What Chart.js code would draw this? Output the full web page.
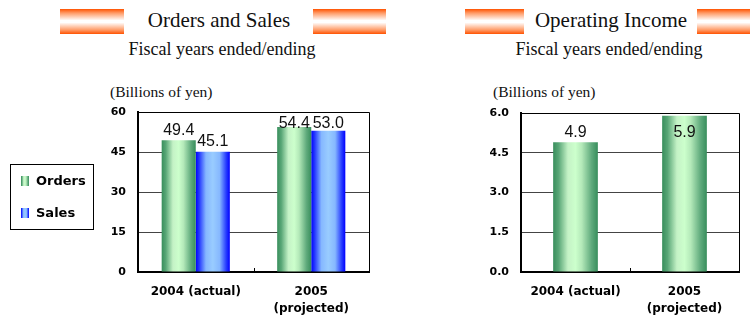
<!DOCTYPE html>
<html>
<head>
<meta charset="utf-8">
<script src="https://cdn.jsdelivr.net/npm/chart.js@4.4.1/dist/chart.umd.min.js"></script>
<style>
  html, body { margin: 0; padding: 0; background: #fff; }
  #page { position: relative; width: 750px; height: 320px; overflow: hidden; }
  .band { position: absolute; top: 9px; height: 25px;
    background: linear-gradient(to bottom, #ff5200 0%, #ff9a66 16%, #fff 46%, #fff 54%, #ff9a66 84%, #ff5200 100%); }
  .ttl { position: absolute; font-family: "Liberation Serif", serif; color: #111; white-space: nowrap; transform: translateX(-50%); }
  .ttl.main { top: 8px; font-size: 21px; line-height: 24px; }
  .ttl.sub { top: 39px; font-size: 18px; line-height: 20px; }
  .unit { position: absolute; top: 83px; font-family: "Liberation Serif", serif; font-size: 15.5px; line-height: 18px; color: #111; white-space: nowrap; }
  canvas { position: absolute; top: 0; }
</style>
</head>
<body>
<div id="page">
  <div class="band" style="left:60px;width:64px"></div>
  <div class="band" style="left:313px;width:73px"></div>
  <div class="ttl main" style="left:219px">Orders and Sales</div>
  <div class="ttl sub" style="left:222px">Fiscal years ended/ending</div>
  <div class="unit" style="left:110px">(Billions of yen)</div>

  <div class="band" style="left:465px;width:59px"></div>
  <div class="band" style="left:697px;width:53px"></div>
  <div class="ttl main" style="left:611px">Operating Income</div>
  <div class="ttl sub" style="left:609px">Fiscal years ended/ending</div>
  <div class="unit" style="left:493px">(Billions of yen)</div>

  <canvas id="salesChart" width="375" height="320" style="left:0"></canvas>
  <canvas id="incomeChart" width="375" height="320" style="left:375px"></canvas>
</div>
<script>
const YEARS = ['2004 (actual)', ['2005', '(projected)']];
const ORDERS = [49.4, 54.4];
const SALES = [45.1, 53.0];
const OP_INCOME = [4.9, 5.9];
const SALES_TICKS = [0, 60, 15];    // min, max, step
const INCOME_TICKS = [0, 6, 1.5];

// cylinder-ish shading across each bar
const GREEN = [[0, '#388e5c'], [0.12, '#58a676'], [0.33, '#c4f2c6'], [0.5, '#ccffcc'], [0.64, '#b4e9b9'], [0.86, '#5faa7c'], [1, '#388e5c']];
const BLUE = [[0, '#0000ff'], [0.1, '#2438ff'], [0.3, '#86b8ff'], [0.5, '#99ccff'], [0.7, '#86b8ff'], [0.9, '#2438ff'], [1, '#0000ff']];

function hGradient(ctx, x0, x1, stops) {
    let g = ctx.createLinearGradient(x0, 0, x1, 0);
    for (let [p, c] of stops) g.addColorStop(p, c);
    return g;
}

function barFill(stops) {
    return (c) => {
        let chart = c.chart;
        let x = chart.scales.x;
        if (!x || c.dataIndex === undefined || !x.width) return stops[3][1];
        let ds = chart.data.datasets;
        let group = x.width / chart.data.labels.length * ds[c.datasetIndex].categoryPercentage;
        let w = group / ds.length;
        let left = x.getPixelForValue(c.dataIndex) - group / 2 + c.datasetIndex * w;
        return hGradient(chart.ctx, left, left + w, stops);
    };
}

const valueLabels = {
    id: 'valueLabels',
    afterDatasetsDraw(chart, args, opts) {
        let { ctx, chartArea } = chart;
        ctx.save();
        ctx.font = '16px "Liberation Sans", Arial, sans-serif';
        ctx.fillStyle = '#111';
        ctx.textAlign = 'center';
        ctx.textBaseline = 'middle';
        chart.data.datasets.forEach((ds, i) => {
            chart.getDatasetMeta(i).data.forEach((bar, j) => {
                let y = Math.max(bar.y - 10, chartArea.top + opts.minGap);
                ctx.fillText(ds.data[j].toFixed(1), bar.x, y);
            });
        });
        ctx.restore();
    }
};

// top/right edges of the plot plus the small divider tick between years
const frame = {
    id: 'frame',
    afterDatasetsDraw(chart) {
        let { ctx, chartArea: a, scales: { x } } = chart;
        ctx.save();
        ctx.strokeStyle = '#000';
        ctx.lineWidth = 1;
        ctx.beginPath();
        ctx.moveTo(a.left, a.top + 0.5);
        ctx.lineTo(a.right + 0.5, a.top + 0.5);
        ctx.lineTo(a.right + 0.5, a.bottom);
        for (let i = 1; i < chart.data.labels.length; i++) {
            let px = Math.round((x.getPixelForValue(i - 1) + x.getPixelForValue(i)) / 2) + 0.5;
            ctx.moveTo(px, a.bottom);
            ctx.lineTo(px, a.bottom - 4);
        }
        ctx.stroke();
        ctx.restore();
    }
};

const boxLegend = {
    id: 'boxLegend',
    afterDraw(chart, args, opts) {
        if (!opts.items) return;
        let ctx = chart.ctx;
        ctx.save();
        ctx.strokeStyle = '#000';
        ctx.lineWidth = 1;
        ctx.strokeRect(10.5, 164.5, 83, 65);
        ctx.font = 'bold 13px "DejaVu Sans", sans-serif';
        ctx.fillStyle = '#000';
        ctx.textBaseline = 'middle';
        opts.items.forEach((it, i) => {
            let y = 176 + i * 32;
            ctx.fillStyle = hGradient(ctx, 21, 29, it.stops);
            ctx.fillRect(21, y, 8, 10);
            ctx.fillStyle = '#000';
            ctx.fillText(it.text, 36, y + 6);
        });
        ctx.restore();
    }
};

function xAxis() {
    return {
        offset: true,
        ticks: { padding: 11, color: '#000', maxRotation: 0, autoSkip: false,
                 font: { family: 'DejaVu Sans', weight: 'bold', size: 12, lineHeight: 1.42 } },
        grid: { drawOnChartArea: false, drawTicks: false },
        border: { color: '#000', width: 2 },
        afterFit: s => { s.height = 48; }
    };
}

function yAxis([min, max, step], digits, width) {
    return {
        min: min,
        max: max,
        ticks: { stepSize: step, padding: 12, color: '#000',
                 font: { family: 'DejaVu Sans', weight: 'bold', size: 11 },
                 callback: v => v.toFixed(digits) },
        grid: { color: '#444', lineWidth: 1, drawTicks: false },
        border: { color: '#000', width: 2 },
        afterFit: s => { s.width = width; }
    };
}

new Chart(document.getElementById('salesChart'), {
    type: 'bar',
    data: {
        labels: YEARS,
        datasets: [
            { label: 'Orders', data: ORDERS, backgroundColor: barFill(GREEN), categoryPercentage: 0.59, barPercentage: 1 },
            { label: 'Sales', data: SALES, backgroundColor: barFill(BLUE), categoryPercentage: 0.59, barPercentage: 1 }
        ]
    },
    options: {
        responsive: false,
        animation: false,
        layout: { padding: { top: 112, right: 6, left: 0, bottom: 0 } },
        plugins: {
            legend: { display: false },
            tooltip: { enabled: false },
            valueLabels: { minGap: 12 },
            boxLegend: { items: [{ text: 'Orders', stops: GREEN }, { text: 'Sales', stops: BLUE }] }
        },
        scales: { x: xAxis(), y: yAxis(SALES_TICKS, 0, 138) }
    },
    plugins: [valueLabels, frame, boxLegend]
});

new Chart(document.getElementById('incomeChart'), {
    type: 'bar',
    data: {
        labels: YEARS,
        datasets: [
            { label: 'Operating Income', data: OP_INCOME, backgroundColor: barFill(GREEN), categoryPercentage: 0.41, barPercentage: 1 }
        ]
    },
    options: {
        responsive: false,
        animation: false,
        layout: { padding: { top: 113, right: 11, left: 0, bottom: 0 } },
        plugins: {
            legend: { display: false },
            tooltip: { enabled: false },
            valueLabels: { minGap: 20 }
        },
        scales: { x: xAxis(), y: yAxis(INCOME_TICKS, 1, 146) }
    },
    plugins: [valueLabels, frame]
});
</script>
</body>
</html>
